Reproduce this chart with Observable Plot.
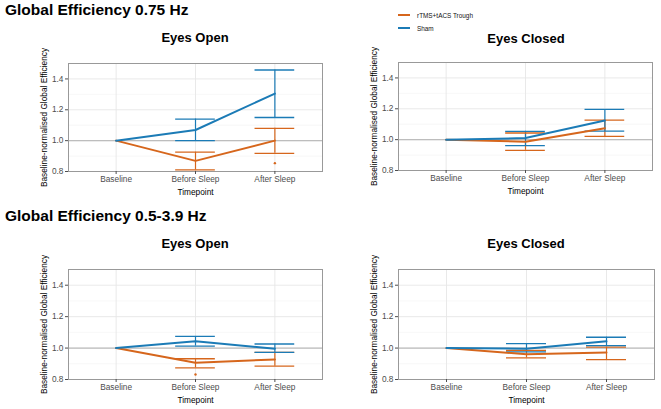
<!DOCTYPE html>
<html><head><meta charset="utf-8">
<script src="https://cdn.jsdelivr.net/npm/d3@7"></script>
<script src="https://cdn.jsdelivr.net/npm/@observablehq/plot@0.6"></script>
<style>
body{margin:0;background:#fff;font-family:"Liberation Sans",Arial,Helvetica,sans-serif;}
#wrap{position:relative;width:661px;height:409px;overflow:hidden;background:#fff;}
.abs{position:absolute;white-space:nowrap;}
.h1{font-weight:bold;font-size:15.5px;line-height:15px;color:#000;}
.h2{font-weight:bold;font-size:13px;line-height:13px;color:#000;transform:translateX(-50%);}
.leg{font-size:6.4px;line-height:7px;color:#111;}
.sw{position:absolute;height:2px;width:12px;}
svg{overflow:visible;}
</style></head>
<body><div id="wrap"></div>
<script>
// ---- data ----
const timepoints = ["Baseline", "Before Sleep", "After Sleep"];
const groups = ["rTMS+tACS Trough", "Sham"];
const groupColors = ["#d6661c", "#1b7bb6"];
const yTicks = [0.8, 1.0, 1.2, 1.4];
const yMinor = [0.9, 1.1, 1.3];
const sectionTitles = ["Global Efficiency 0.75 Hz", "Global Efficiency 0.5-3.9 Hz"];
const conditionTitles = ["Eyes Open", "Eyes Closed"];
const yLabel = "Baseline-normalised Global Efficiency";
const xLabel = "Timepoint";

// 0.75 Hz, Eyes Open
const ge075_EO_rtms_mean = [1.0, 0.869, 1.0];
const ge075_EO_rtms_lo   = [null, 0.81, 0.918];
const ge075_EO_rtms_hi   = [null, 0.925, 1.08];
const ge075_EO_sham_mean = [1.0, 1.069, 1.305];
const ge075_EO_sham_lo   = [null, 1.0, 1.15];
const ge075_EO_sham_hi   = [null, 1.14, 1.458];
const ge075_EO_rtms_outliers = [{tp: "After Sleep", value: 0.854}];

// 0.75 Hz, Eyes Closed
const ge075_EC_rtms_mean = [1.0, 0.987, 1.074];
const ge075_EC_rtms_lo   = [null, 0.931, 1.021];
const ge075_EC_rtms_hi   = [null, 1.043, 1.126];
const ge075_EC_sham_mean = [1.0, 1.01, 1.124];
const ge075_EC_sham_lo   = [null, 0.961, 1.055];
const ge075_EC_sham_hi   = [null, 1.054, 1.196];
const ge075_EC_rtms_outliers = [];

// 0.5-3.9 Hz, Eyes Open
const ge0539_EO_rtms_mean = [1.0, 0.906, 0.928];
const ge0539_EO_rtms_lo   = [null, 0.874, 0.885];
const ge0539_EO_rtms_hi   = [null, 0.932, 0.972];
const ge0539_EO_sham_mean = [1.0, 1.043, 0.996];
const ge0539_EO_sham_lo   = [null, 1.013, 0.972];
const ge0539_EO_sham_hi   = [null, 1.074, 1.026];
const ge0539_EO_rtms_outliers = [{tp: "Before Sleep", value: 0.832}];

// 0.5-3.9 Hz, Eyes Closed
const ge0539_EC_rtms_mean = [1.0, 0.961, 0.972];
const ge0539_EC_rtms_lo   = [null, 0.938, 0.927];
const ge0539_EC_rtms_hi   = [null, 0.985, 1.006];
const ge0539_EC_sham_mean = [1.0, 0.996, 1.043];
const ge0539_EC_sham_lo   = [null, 0.976, 1.015];
const ge0539_EC_sham_hi   = [null, 1.028, 1.069];
const ge0539_EC_rtms_outliers = [];

// ---- build tables ----
function table(series) {
  const rows = [];
  series.forEach(([g, mean, lo, hi]) => {
    timepoints.forEach((tp, k) => rows.push({group: g, tp, i: k + 1, mean: mean[k], lo: lo[k], hi: hi[k]}));
  });
  return rows;
}
const panelData = [
  {rows: table([[groups[0], ge075_EO_rtms_mean, ge075_EO_rtms_lo, ge075_EO_rtms_hi], [groups[1], ge075_EO_sham_mean, ge075_EO_sham_lo, ge075_EO_sham_hi]]), out: ge075_EO_rtms_outliers},
  {rows: table([[groups[0], ge075_EC_rtms_mean, ge075_EC_rtms_lo, ge075_EC_rtms_hi], [groups[1], ge075_EC_sham_mean, ge075_EC_sham_lo, ge075_EC_sham_hi]]), out: ge075_EC_rtms_outliers},
  {rows: table([[groups[0], ge0539_EO_rtms_mean, ge0539_EO_rtms_lo, ge0539_EO_rtms_hi], [groups[1], ge0539_EO_sham_mean, ge0539_EO_sham_lo, ge0539_EO_sham_hi]]), out: ge0539_EO_rtms_outliers},
  {rows: table([[groups[0], ge0539_EC_rtms_mean, ge0539_EC_rtms_lo, ge0539_EC_rtms_hi], [groups[1], ge0539_EC_sham_mean, ge0539_EC_sham_lo, ge0539_EC_sham_hi]]), out: ge0539_EC_rtms_outliers}
];

// ---- layout ----
const layout = [
  {left: 0,   top: 53,  width: 330, height: 148, mL: 68, mR: 8},
  {left: 330, top: 52,  width: 331, height: 148, mL: 68, mR: 9},
  {left: 0,   top: 259, width: 330, height: 150, mL: 68, mR: 8},
  {left: 330, top: 259, width: 331, height: 150, mL: 68, mR: 7}
];

const wrap = document.getElementById("wrap");
const FONT = "'Liberation Sans', Arial, Helvetica, sans-serif";
const idx = tp => timepoints.indexOf(tp) + 1;

panelData.forEach((pd, p) => {
  const L = layout[p];
  const bars = pd.rows.filter(d => d.lo != null);
  const caps = bars.flatMap(d => [{group: d.group, i: d.i, v: d.lo}, {group: d.group, i: d.i, v: d.hi}]);
  const chart = Plot.plot({
    width: L.width, height: L.height,
    marginLeft: L.mL, marginRight: L.mR, marginTop: 10, marginBottom: 30,
    style: {fontFamily: FONT, fontSize: "8.3px", background: "transparent", overflow: "visible"},
    x: {type: "linear", domain: [0.4, 3.6], axis: null},
    y: {domain: [0.8, 1.5], axis: null},
    color: {domain: groups, range: groupColors},
    marks: [
      Plot.ruleY(yMinor, {stroke: "#f2f2f2", strokeWidth: 0.6}),
      Plot.gridY({ticks: yTicks, stroke: "#e6e6e6", strokeOpacity: 1, strokeWidth: 0.9}),
      Plot.gridX({ticks: [1, 2, 3], stroke: "#e6e6e6", strokeOpacity: 1, strokeWidth: 0.9}),
      Plot.ruleY([1], {stroke: "#bdbdbd", strokeWidth: 1.2}),
      Plot.ruleX(bars, {x: "i", y1: "lo", y2: "hi", stroke: "group", strokeWidth: 1.2}),
      Plot.ruleY(caps, {y: "v", x1: d => d.i - 0.25, x2: d => d.i + 0.25, stroke: "group", strokeWidth: 1.3}),
      Plot.line(pd.rows, {x: "i", y: "mean", z: "group", stroke: "group", strokeWidth: 2}),
      Plot.dot(pd.out, {x: d => idx(d.tp), y: "value", r: 1.2, fill: groupColors[0], stroke: "none"}),
      Plot.frame({stroke: "#999999", strokeWidth: 1}),
      Plot.axisY({ticks: yTicks, tickFormat: d => d.toFixed(1), tickSize: 3, tickPadding: 2, fontSize: 8.3, color: "#4d4d4d", label: null}),
      Plot.axisX({ticks: [1, 2, 3], tickFormat: i => timepoints[i - 1], tickSize: 3, tickPadding: 2, fontSize: 8.3, color: "#4d4d4d", label: null}),
      Plot.text([yLabel], {frameAnchor: "left", dx: -24, rotate: -90, textAnchor: "middle", lineAnchor: "middle", fontSize: 8.3, fill: "#000"}),
      Plot.text([xLabel], {frameAnchor: "bottom", dy: 21, textAnchor: "middle", lineAnchor: "middle", fontSize: 8.3, fill: "#000"})
    ]
  });
  chart.style.position = "absolute";
  chart.style.left = L.left + "px";
  chart.style.top = L.top + "px";
  wrap.appendChild(chart);
});

// titles
function addText(cls, text, left, top) {
  const d = document.createElement("div");
  d.className = "abs " + cls;
  d.textContent = text;
  d.style.left = left + "px";
  d.style.top = top + "px";
  wrap.appendChild(d);
  return d;
}
addText("h1", sectionTitles[0], 5, 2);
addText("h1", sectionTitles[1], 5, 207.5);
addText("h2", conditionTitles[0], 195, 31);
addText("h2", conditionTitles[1], 526, 31.5);
addText("h2", conditionTitles[0], 195, 237);
addText("h2", conditionTitles[1], 526, 237);

// legend
groups.forEach((g, k) => {
  const y = 15 + k * 13;
  const sw = document.createElement("div");
  sw.className = "sw";
  sw.style.left = "398px";
  sw.style.top = (y - 1) + "px";
  sw.style.background = groupColors[k];
  wrap.appendChild(sw);
  addText("leg", g, 417, y - 3.5);
});
</script>
</body></html>
